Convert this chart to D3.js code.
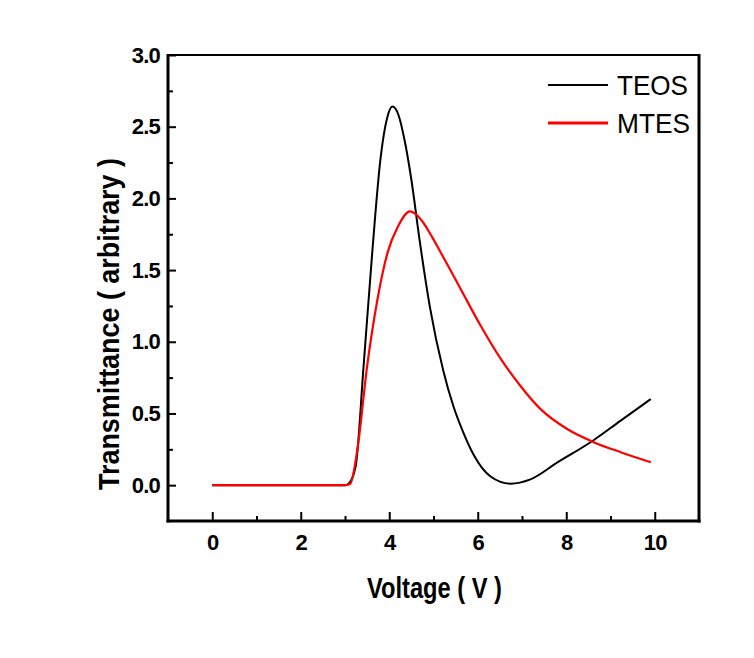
<!DOCTYPE html>
<html>
<head>
<meta charset="utf-8">
<script src="https://cdn.jsdelivr.net/npm/d3@7"></script>
<style>
  html, body { margin: 0; padding: 0; background: #fff; }
  svg { display: block; }
  text { font-family: "Liberation Sans", Arial, sans-serif; }
</style>
</head>
<body>
<div id="chart"></div>
<script>
// ---- data ----
const teosVoltage = [0, 1, 2, 3.0, 3.08, 3.24, 3.42, 3.62, 3.80, 3.96, 4.07, 4.21, 4.35, 4.50, 4.69, 4.92, 5.22, 5.45, 5.67, 5.91, 6.29, 6.74, 7.19, 7.81, 8.60, 9.23, 9.91];
const teosValues  = [0, 0, 0, 0,   0.01, 0.13, 0.83, 1.64, 2.27, 2.57, 2.64, 2.58, 2.40, 2.13, 1.70, 1.24, 0.80, 0.55, 0.37, 0.21, 0.06, 0.01, 0.04, 0.16, 0.31, 0.45, 0.60];
const mtesVoltage = [0, 1, 2, 3.0, 3.12, 3.28, 3.50, 3.73, 3.96, 4.19, 4.47, 4.60, 4.77, 4.95, 5.15, 5.61, 6.05, 6.52, 6.97, 7.42, 8.03, 8.62, 9.23, 9.91];
const mtesValues  = [0, 0, 0, 0,   0.01, 0.25, 0.83, 1.29, 1.62, 1.80, 1.91, 1.89, 1.83, 1.74, 1.63, 1.37, 1.12, 0.88, 0.69, 0.53, 0.39, 0.30, 0.23, 0.16];
const xMajorTicks = [0, 2, 4, 6, 8, 10];
const xMinorTicks = [1, 3, 5, 7, 9];
const yMajorTicks = [0.0, 0.5, 1.0, 1.5, 2.0, 2.5, 3.0];
const yMinorTicks = [0.25, 0.75, 1.25, 1.75, 2.25, 2.75];
const seriesNames = ["TEOS", "MTES"];
const seriesColors = ["#000000", "#ff0000"];
const xTitle = "Voltage ( V )";
const yTitle = "Transmittance ( arbitrary )";

// ---- layout ----
const W = 754, H = 658;
const L = 168, R = 699, T = 55, B = 521;

const svg = d3.select("#chart").append("svg").attr("width", W).attr("height", H);

const x = d3.scaleLinear().domain([-1, 11]).range([L, R]);
const y = d3.scaleLinear().domain([-0.25, 3.0]).range([B, T]);

// frame: top and right
svg.append("line").attr("x1", L).attr("x2", R).attr("y1", T).attr("y2", T)
  .attr("stroke", "#000").attr("stroke-width", 2);
svg.append("line").attr("x1", R).attr("x2", R).attr("y1", T - 1).attr("y2", B + 1.5)
  .attr("stroke", "#000").attr("stroke-width", 3);

// x axis
const xAxis = svg.append("g").attr("transform", `translate(0,${B})`)
  .call(d3.axisBottom(x).tickValues(xMajorTicks).tickSize(-9).tickFormat(d3.format("d")).tickPadding(13));
const xAxisMinor = svg.append("g").attr("transform", `translate(0,${B})`)
  .call(d3.axisBottom(x).tickValues(xMinorTicks).tickSize(-5).tickFormat(""));

// y axis
const yAxis = svg.append("g").attr("transform", `translate(${L},0)`)
  .call(d3.axisLeft(y).tickValues(yMajorTicks).tickSize(-8).tickFormat(d3.format(".1f")).tickPadding(8));
const yAxisMinor = svg.append("g").attr("transform", `translate(${L},0)`)
  .call(d3.axisLeft(y).tickValues(yMinorTicks).tickSize(-5).tickFormat(""));

[xAxis, xAxisMinor, yAxis, yAxisMinor].forEach(g => {
  g.select(".domain").remove();
  g.selectAll(".tick line").attr("stroke", "#000").attr("stroke-width", 2);
  g.selectAll(".tick text")
    .attr("fill", "#000")
    .style("font-family", "'Liberation Sans', Arial, sans-serif")
    .style("font-size", "22px").style("font-weight", "bold")
    .style("letter-spacing", "-0.8px");
});

// axis lines (thick)
svg.append("line").attr("x1", L).attr("x2", L).attr("y1", T - 1).attr("y2", B + 1.5)
  .attr("stroke", "#000").attr("stroke-width", 3);
svg.append("line").attr("x1", L - 1.5).attr("x2", R + 1.5).attr("y1", B).attr("y2", B)
  .attr("stroke", "#000").attr("stroke-width", 3);

// curves
const line = d3.line().x(d => x(d[0])).y(d => y(d[1])).curve(d3.curveMonotoneX);
const series = [
  d3.zip(teosVoltage, teosValues),
  d3.zip(mtesVoltage, mtesValues)
];
svg.append("path").datum(series[0]).attr("d", line)
  .attr("fill", "none").attr("stroke", seriesColors[0]).attr("stroke-width", 2);
svg.append("path").datum(series[1]).attr("d", line)
  .attr("fill", "none").attr("stroke", seriesColors[1]).attr("stroke-width", 2.2);

// legend
const legendY = [85, 123];
const legendLen = [71, 73];
seriesNames.forEach((name, i) => {
  svg.append("line").attr("x1", 548).attr("x2", 608).attr("y1", legendY[i]).attr("y2", legendY[i])
    .attr("stroke", seriesColors[i]).attr("stroke-width", i === 1 ? 3 : 2);
  svg.append("text").attr("x", 617).attr("y", legendY[i] + 10)
    .attr("textLength", legendLen[i]).attr("lengthAdjust", "spacingAndGlyphs")
    .style("font-size", "28px").attr("fill", "#000").text(name);
});

// axis titles
svg.append("text").attr("x", 434.5).attr("y", 598).attr("text-anchor", "middle")
  .attr("textLength", 135).attr("lengthAdjust", "spacingAndGlyphs")
  .style("font-size", "29px").style("font-weight", "bold").text(xTitle);
svg.append("text").attr("transform", `translate(119,324) rotate(-90)`).attr("text-anchor", "middle")
  .attr("textLength", 332).attr("lengthAdjust", "spacingAndGlyphs")
  .style("font-size", "29px").style("font-weight", "bold").text(yTitle);
</script>
</body>
</html>
